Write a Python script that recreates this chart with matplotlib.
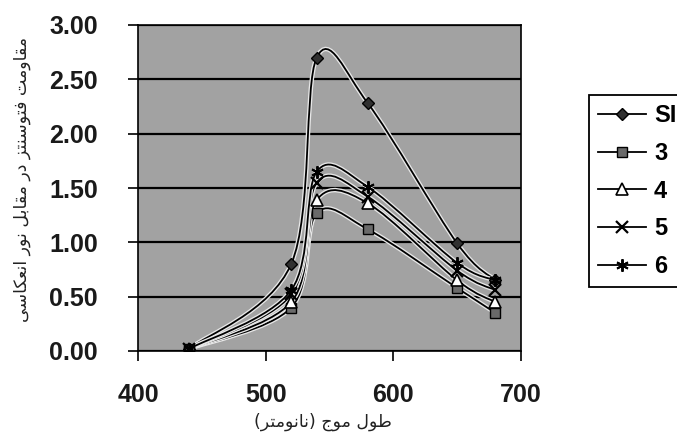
import numpy as np
import matplotlib
matplotlib.use('Agg')
import matplotlib.pyplot as plt
from matplotlib.path import Path
from matplotlib.patches import PathPatch
from matplotlib.lines import Line2D
import matplotlib.patheffects as pe

# ---------------- data ----------------
wavelength = [440, 520, 540, 580, 650, 680]
series_names = ['SI', '3', '4', '5', '6']
si_values = [0.02, 0.80, 2.70, 2.28, 0.99, 0.65]
s3_values = [0.02, 0.40, 1.27, 1.12, 0.58, 0.35]
s4_values = [0.02, 0.45, 1.39, 1.36, 0.65, 0.45]
s5_values = [0.02, 0.52, 1.55, 1.42, 0.74, 0.56]
s6_values = [0.02, 0.56, 1.65, 1.51, 0.81, 0.65]
x_ticks = [400, 500, 600, 700]
y_ticks = [0.0, 0.5, 1.0, 1.5, 2.0, 2.5, 3.0]
xlabel_fa = 'طول موج (نانومتر)'
ylabel_fa = 'مقاومت فتوسنتز در مقابل نور انعکاسی'

# -------- simple Persian shaping (presentation forms) --------
FORMS = {
    'ا': (0xFE8D, 0xFE8E), 'ب': (0xFE8F, 0xFE90, 0xFE91, 0xFE92),
    'ت': (0xFE95, 0xFE96, 0xFE97, 0xFE98), 'ج': (0xFE9D, 0xFE9E, 0xFE9F, 0xFEA0),
    'د': (0xFEA9, 0xFEAA), 'ر': (0xFEAD, 0xFEAE), 'ز': (0xFEAF, 0xFEB0),
    'س': (0xFEB1, 0xFEB2, 0xFEB3, 0xFEB4), 'ط': (0xFEC1, 0xFEC2, 0xFEC3, 0xFEC4),
    'ع': (0xFEC9, 0xFECA, 0xFECB, 0xFECC), 'ف': (0xFED1, 0xFED2, 0xFED3, 0xFED4),
    'ق': (0xFED5, 0xFED6, 0xFED7, 0xFED8), 'ل': (0xFEDD, 0xFEDE, 0xFEDF, 0xFEE0),
    'م': (0xFEE1, 0xFEE2, 0xFEE3, 0xFEE4), 'ن': (0xFEE5, 0xFEE6, 0xFEE7, 0xFEE8),
    'و': (0xFEED, 0xFEEE), 'ک': (0xFB8E, 0xFB8F, 0xFB90, 0xFB91),
    'ی': (0xFBFC, 0xFBFD, 0xFBFE, 0xFBFF),
}


def shape_rtl(text):
    chars = list(text)
    out = []
    for i, c in enumerate(chars):
        if c not in FORMS:
            out.append(c)
            continue
        f = FORMS[c]
        prev_j = i > 0 and chars[i - 1] in FORMS and len(FORMS[chars[i - 1]]) == 4
        next_j = i < len(chars) - 1 and chars[i + 1] in FORMS and len(f) == 4
        if prev_j and next_j:
            g = f[3]
        elif prev_j:
            g = f[1]
        elif next_j:
            g = f[2]
        else:
            g = f[0]
        out.append(chr(g))
    vis = ''.join(reversed(out))
    mirror = {'(': ')', ')': '('}
    return ''.join(mirror.get(c, c) for c in vis)


def smooth_path(xs, ys):
    pts = np.column_stack([xs, ys]).astype(float)
    n = len(pts)
    verts = [pts[0]]
    codes = [Path.MOVETO]
    for i in range(n - 1):
        p0 = pts[i - 1] if i > 0 else pts[i]
        p1 = pts[i]
        p2 = pts[i + 1]
        p3 = pts[i + 2] if i + 2 < n else pts[i + 1]
        c1 = p1 + (p2 - p0) / 6.0
        c2 = p2 - (p3 - p1) / 6.0
        verts += [c1, c2, p2]
        codes += [Path.CURVE4] * 3
    return Path(verts, codes)


# ---------------- figure ----------------
fig = plt.figure(figsize=(6.77, 4.47), dpi=100)
fig.patch.set_facecolor('white')
W, H = 677, 447
left, right, top, bottom = 138, 521, 25, 351
ax = fig.add_axes([left / W, 1 - bottom / H, (right - left) / W, (bottom - top) / H])
ax.set_facecolor('#a2a2a2')

styles = [
    dict(marker='D', ms=6, mfc='#303030', mec='black', mew=1.0),
    dict(marker='s', ms=7, mfc='#6a6a6a', mec='black', mew=1.0),
    dict(marker='^', ms=8, mfc='white', mec='black', mew=1.2),
    dict(marker='x', ms=8, mfc='black', mec='black', mew=1.6),
    dict(marker=(6, 2, 0), ms=9, mfc='black', mec='black', mew=1.4),
]
all_series = [si_values, s3_values, s4_values, s5_values, s6_values]

for vals, st in zip(all_series, styles):
    patch = PathPatch(smooth_path(wavelength, vals), facecolor='none',
                      edgecolor='black', lw=1.3, zorder=3,
                      path_effects=[pe.Stroke(linewidth=3.2, foreground='#e8e8e8'),
                                    pe.Normal()])
    ax.add_patch(patch)
    ax.plot(wavelength, vals, ls='none', zorder=4, **st)

ax.set_xlim(400, 700)
ax.set_ylim(0, 3.0)
ax.set_xticks(x_ticks)
ax.set_yticks(y_ticks)
ax.set_yticklabels(['%.2f' % v for v in y_ticks])
ax.yaxis.grid(True, color='black', lw=1.6)
ax.set_axisbelow(True)
for s in ax.spines.values():
    s.set_color('black')
    s.set_linewidth(1.2)
ax.tick_params(axis='both', direction='out', length=7, width=1.2, colors='black',
               labelsize=18)
ax.tick_params(axis='x', pad=16)
ax.tick_params(axis='y', pad=22)
for lab in ax.get_xticklabels() + ax.get_yticklabels():
    lab.set_fontfamily('Liberation Sans')
    lab.set_fontweight('bold')
    lab.set_color('#1a1a1a')

fig.text(323 / W, 1 - 422 / H, shape_rtl(xlabel_fa), ha='center', va='center',
         fontsize=12.5, family='DejaVu Sans', color='#222222')
fig.text(22 / W, 1 - 180 / H, shape_rtl(ylabel_fa), ha='center', va='center',
         rotation=90, fontsize=12.5, family='DejaVu Sans', color='#222222')

handles = [Line2D([], [], color='black', lw=1.3, label=n, **st)
           for n, st in zip(series_names, styles)]
leg = fig.legend(handles=handles, loc='upper left', bbox_to_anchor=(589 / W, 1 - 95 / H),
                 frameon=True, fancybox=False, edgecolor='black', framealpha=1,
                 prop={'family': 'Liberation Sans', 'weight': 'bold', 'size': 17},
                 handlelength=2.0, handletextpad=0.35, labelspacing=0.62,
                 borderpad=0.4, borderaxespad=0)
leg.get_frame().set_linewidth(1.3)

fig.savefig('out.png', dpi=100)
